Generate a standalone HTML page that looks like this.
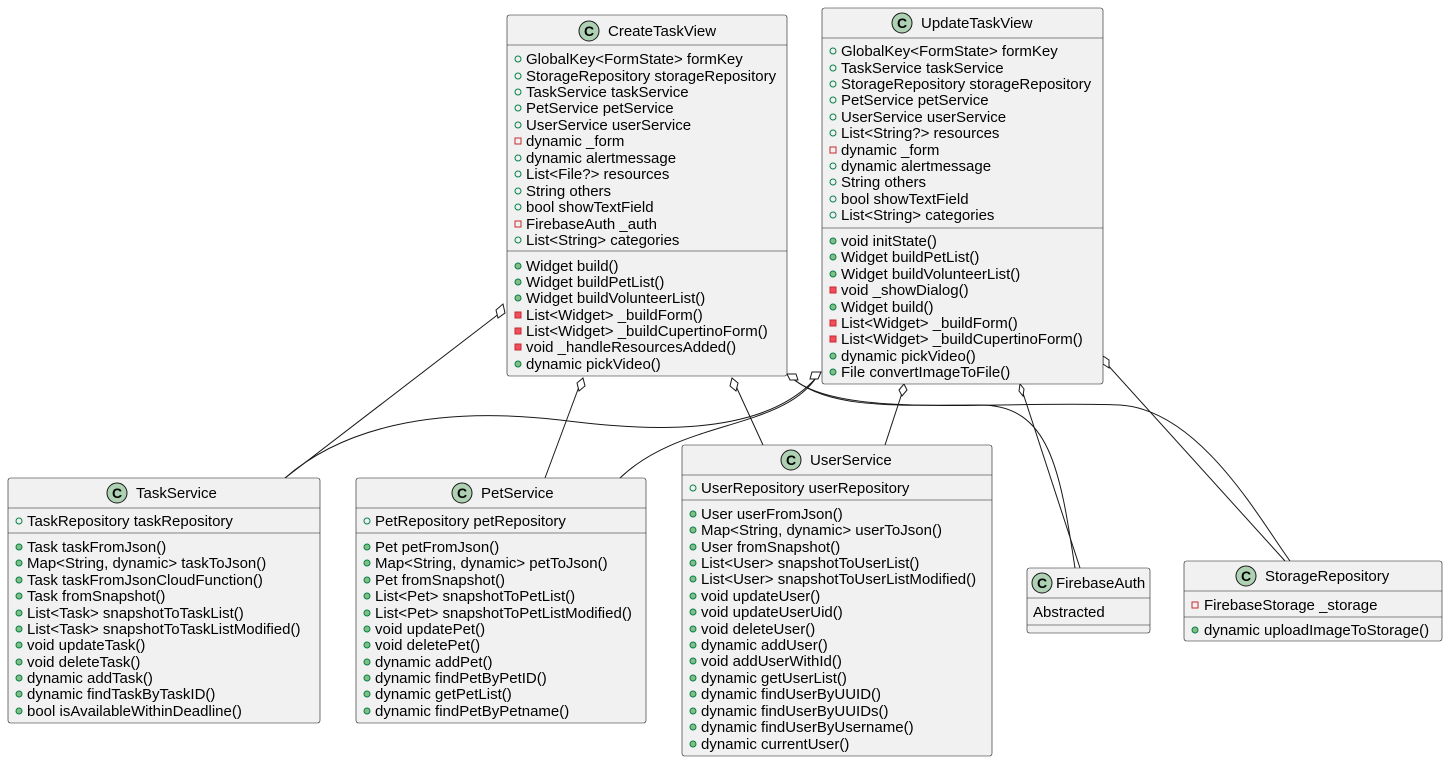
<!DOCTYPE html>
<html><head><meta charset="utf-8"><style>
html,body{margin:0;padding:0;background:#fff;}
svg{display:block;}
text{font-family:"Liberation Sans",sans-serif;font-size:15px;fill:#000;}
.t{font-size:15px;}
.b{fill:#F1F1F1;stroke:#181818;stroke-width:0.6;}
.s{stroke:#181818;stroke-width:0.6;}
.l{fill:none;stroke:#181818;stroke-width:1;}
.d{fill:#fff;stroke:#181818;stroke-width:1;}
.pu{fill:#84BE84;stroke:#038048;stroke-width:1;}
.puo{fill:none;stroke:#038048;stroke-width:1;}
.pr{fill:#F24D5C;stroke:#C82930;stroke-width:1;}
.pro{fill:none;stroke:#C82930;stroke-width:1;}
.ci{fill:#ADD1B2;stroke:#181818;stroke-width:1;}
.cc{font-size:14px;font-weight:bold;}
</style></head><body>
<svg width="1448" height="762" viewBox="0 0 1448 762" xmlns="http://www.w3.org/2000/svg">
<!-- connectors -->
<path class="l" d="M500,313 L285,478"/>
<path class="l" d="M580,384 L545,478"/>
<path class="l" d="M735,384 L763,445"/>
<path class="l" d="M792,378 C830,410 900,405 980,405 C1050,405 1060,470 1075,568"/>
<path class="l" d="M792,378 C840,420 1000,400 1120,405 C1200,410 1260,520 1290,561"/>
<path class="l" d="M816,378 C760,440 640,430 560,420 C430,405 340,430 285,478"/>
<path class="l" d="M816,378 C780,430 680,420 620,478"/>
<path class="l" d="M903,390 L885,445"/>
<path class="l" d="M1022,390 L1080,568"/>
<path class="l" d="M1105,362 L1285,561"/>
<polygon class="d" points="503,304 505,313 498,318 496,310"/>
<polygon class="d" points="583,378 585,386 579,391 577,383"/>
<polygon class="d" points="732,378 738,383 736,391 730,386"/>
<polygon class="d" points="787,374 796,374 798,380 790,380"/>
<polygon class="d" points="812,372 821,372 818,379 810,379"/>
<polygon class="d" points="904,384 907,390 902,396 899,390"/>
<polygon class="d" points="1020,384 1024,389 1023,396 1019,391"/>
<polygon class="d" points="1103,356 1109,360 1109,368 1103,364"/>

<!-- CreateTaskView -->
<rect class="b" x="507" y="15" width="280" height="361" rx="2.5"/>
<line class="s" x1="507" y1="45" x2="787" y2="45"/>
<line class="s" x1="507" y1="251" x2="787" y2="251"/>
<circle class="ci" cx="589" cy="31" r="10"/><text class="cc" x="584" y="36">C</text>
<text class="t" x="608" y="36">CreateTaskView</text>
<g>
<circle class="puo" cx="518" cy="59" r="3"/><text x="526" y="64">GlobalKey&lt;FormState&gt; formKey</text>
<circle class="puo" cx="518" cy="76" r="3"/><text x="526" y="81">StorageRepository storageRepository</text>
<circle class="puo" cx="518" cy="92" r="3"/><text x="526" y="97">TaskService taskService</text>
<circle class="puo" cx="518" cy="108" r="3"/><text x="526" y="113">PetService petService</text>
<circle class="puo" cx="518" cy="125" r="3"/><text x="526" y="130">UserService userService</text>
<rect class="pro" x="515" y="138" width="6" height="6"/><text x="526" y="146">dynamic _form</text>
<circle class="puo" cx="518" cy="158" r="3"/><text x="526" y="163">dynamic alertmessage</text>
<circle class="puo" cx="518" cy="174" r="3"/><text x="526" y="179">List&lt;File?&gt; resources</text>
<circle class="puo" cx="518" cy="191" r="3"/><text x="526" y="196">String others</text>
<circle class="puo" cx="518" cy="207" r="3"/><text x="526" y="212">bool showTextField</text>
<rect class="pro" x="515" y="221" width="6" height="6"/><text x="526" y="229">FirebaseAuth _auth</text>
<circle class="puo" cx="518" cy="240" r="3"/><text x="526" y="245">List&lt;String&gt; categories</text>
<circle class="pu" cx="518" cy="266" r="3"/><text x="526" y="271">Widget build()</text>
<circle class="pu" cx="518" cy="282" r="3"/><text x="526" y="287">Widget buildPetList()</text>
<circle class="pu" cx="518" cy="298" r="3"/><text x="526" y="303">Widget buildVolunteerList()</text>
<rect class="pr" x="515" y="312" width="6" height="6"/><text x="526" y="320">List&lt;Widget&gt; _buildForm()</text>
<rect class="pr" x="515" y="328" width="6" height="6"/><text x="526" y="336">List&lt;Widget&gt; _buildCupertinoForm()</text>
<rect class="pr" x="515" y="344" width="6" height="6"/><text x="526" y="352">void _handleResourcesAdded()</text>
<circle class="pu" cx="518" cy="364" r="3"/><text x="526" y="369">dynamic pickVideo()</text>
</g>

<!-- UpdateTaskView -->
<rect class="b" x="822" y="8" width="281" height="376" rx="2.5"/>
<line class="s" x1="822" y1="38" x2="1103" y2="38"/>
<line class="s" x1="822" y1="228" x2="1103" y2="228"/>
<circle class="ci" cx="902" cy="23" r="10"/><text class="cc" x="897" y="28">C</text>
<text class="t" x="921" y="28">UpdateTaskView</text>
<g>
<circle class="puo" cx="833" cy="51" r="3"/><text x="841" y="56">GlobalKey&lt;FormState&gt; formKey</text>
<circle class="puo" cx="833" cy="68" r="3"/><text x="841" y="73">TaskService taskService</text>
<circle class="puo" cx="833" cy="84" r="3"/><text x="841" y="89">StorageRepository storageRepository</text>
<circle class="puo" cx="833" cy="100" r="3"/><text x="841" y="105">PetService petService</text>
<circle class="puo" cx="833" cy="117" r="3"/><text x="841" y="122">UserService userService</text>
<circle class="puo" cx="833" cy="133" r="3"/><text x="841" y="138">List&lt;String?&gt; resources</text>
<rect class="pro" x="830" y="147" width="6" height="6"/><text x="841" y="155">dynamic _form</text>
<circle class="puo" cx="833" cy="166" r="3"/><text x="841" y="171">dynamic alertmessage</text>
<circle class="puo" cx="833" cy="182" r="3"/><text x="841" y="187">String others</text>
<circle class="puo" cx="833" cy="199" r="3"/><text x="841" y="204">bool showTextField</text>
<circle class="puo" cx="833" cy="215" r="3"/><text x="841" y="220">List&lt;String&gt; categories</text>
<circle class="pu" cx="833" cy="241" r="3"/><text x="841" y="246">void initState()</text>
<circle class="pu" cx="833" cy="257" r="3"/><text x="841" y="262">Widget buildPetList()</text>
<circle class="pu" cx="833" cy="274" r="3"/><text x="841" y="279">Widget buildVolunteerList()</text>
<rect class="pr" x="830" y="287" width="6" height="6"/><text x="841" y="295">void _showDialog()</text>
<circle class="pu" cx="833" cy="307" r="3"/><text x="841" y="312">Widget build()</text>
<rect class="pr" x="830" y="320" width="6" height="6"/><text x="841" y="328">List&lt;Widget&gt; _buildForm()</text>
<rect class="pr" x="830" y="336" width="6" height="6"/><text x="841" y="344">List&lt;Widget&gt; _buildCupertinoForm()</text>
<circle class="pu" cx="833" cy="356" r="3"/><text x="841" y="361">dynamic pickVideo()</text>
<circle class="pu" cx="833" cy="372" r="3"/><text x="841" y="377">File convertImageToFile()</text>
</g>

<!-- TaskService -->
<rect class="b" x="8" y="478" width="312" height="245" rx="2.5"/>
<line class="s" x1="8" y1="508" x2="320" y2="508"/>
<line class="s" x1="8" y1="533" x2="320" y2="533"/>
<circle class="ci" cx="117" cy="493" r="10"/><text class="cc" x="112" y="498">C</text>
<text class="t" x="136" y="498">TaskService</text>
<circle class="puo" cx="19" cy="521" r="3"/><text x="27" y="526">TaskRepository taskRepository</text>
<circle class="pu" cx="19" cy="547" r="3"/><text x="27" y="552">Task taskFromJson()</text>
<circle class="pu" cx="19" cy="563" r="3"/><text x="27" y="568">Map&lt;String, dynamic&gt; taskToJson()</text>
<circle class="pu" cx="19" cy="580" r="3"/><text x="27" y="585">Task taskFromJsonCloudFunction()</text>
<circle class="pu" cx="19" cy="596" r="3"/><text x="27" y="601">Task fromSnapshot()</text>
<circle class="pu" cx="19" cy="613" r="3"/><text x="27" y="618">List&lt;Task&gt; snapshotToTaskList()</text>
<circle class="pu" cx="19" cy="629" r="3"/><text x="27" y="634">List&lt;Task&gt; snapshotToTaskListModified()</text>
<circle class="pu" cx="19" cy="645" r="3"/><text x="27" y="650">void updateTask()</text>
<circle class="pu" cx="19" cy="662" r="3"/><text x="27" y="667">void deleteTask()</text>
<circle class="pu" cx="19" cy="678" r="3"/><text x="27" y="683">dynamic addTask()</text>
<circle class="pu" cx="19" cy="694" r="3"/><text x="27" y="699">dynamic findTaskByTaskID()</text>
<circle class="pu" cx="19" cy="711" r="3"/><text x="27" y="716">bool isAvailableWithinDeadline()</text>

<!-- PetService -->
<rect class="b" x="356" y="478" width="290" height="245" rx="2.5"/>
<line class="s" x1="356" y1="508" x2="646" y2="508"/>
<line class="s" x1="356" y1="533" x2="646" y2="533"/>
<circle class="ci" cx="462" cy="493" r="10"/><text class="cc" x="457" y="498">C</text>
<text class="t" x="481" y="498">PetService</text>
<circle class="puo" cx="367" cy="521" r="3"/><text x="375" y="526">PetRepository petRepository</text>
<circle class="pu" cx="367" cy="547" r="3"/><text x="375" y="552">Pet petFromJson()</text>
<circle class="pu" cx="367" cy="563" r="3"/><text x="375" y="568">Map&lt;String, dynamic&gt; petToJson()</text>
<circle class="pu" cx="367" cy="580" r="3"/><text x="375" y="585">Pet fromSnapshot()</text>
<circle class="pu" cx="367" cy="596" r="3"/><text x="375" y="601">List&lt;Pet&gt; snapshotToPetList()</text>
<circle class="pu" cx="367" cy="613" r="3"/><text x="375" y="618">List&lt;Pet&gt; snapshotToPetListModified()</text>
<circle class="pu" cx="367" cy="629" r="3"/><text x="375" y="634">void updatePet()</text>
<circle class="pu" cx="367" cy="645" r="3"/><text x="375" y="650">void deletePet()</text>
<circle class="pu" cx="367" cy="662" r="3"/><text x="375" y="667">dynamic addPet()</text>
<circle class="pu" cx="367" cy="678" r="3"/><text x="375" y="683">dynamic findPetByPetID()</text>
<circle class="pu" cx="367" cy="694" r="3"/><text x="375" y="699">dynamic getPetList()</text>
<circle class="pu" cx="367" cy="711" r="3"/><text x="375" y="716">dynamic findPetByPetname()</text>

<!-- UserService -->
<rect class="b" x="682" y="445" width="310" height="311" rx="2.5"/>
<line class="s" x1="682" y1="475" x2="992" y2="475"/>
<line class="s" x1="682" y1="500" x2="992" y2="500"/>
<circle class="ci" cx="791" cy="460" r="10"/><text class="cc" x="786" y="465">C</text>
<text class="t" x="810" y="465">UserService</text>
<circle class="puo" cx="693" cy="488" r="3"/><text x="701" y="493">UserRepository userRepository</text>
<circle class="pu" cx="693" cy="514" r="3"/><text x="701" y="519">User userFromJson()</text>
<circle class="pu" cx="693" cy="530" r="3"/><text x="701" y="535">Map&lt;String, dynamic&gt; userToJson()</text>
<circle class="pu" cx="693" cy="547" r="3"/><text x="701" y="552">User fromSnapshot()</text>
<circle class="pu" cx="693" cy="563" r="3"/><text x="701" y="568">List&lt;User&gt; snapshotToUserList()</text>
<circle class="pu" cx="693" cy="579" r="3"/><text x="701" y="584">List&lt;User&gt; snapshotToUserListModified()</text>
<circle class="pu" cx="693" cy="596" r="3"/><text x="701" y="601">void updateUser()</text>
<circle class="pu" cx="693" cy="612" r="3"/><text x="701" y="617">void updateUserUid()</text>
<circle class="pu" cx="693" cy="629" r="3"/><text x="701" y="634">void deleteUser()</text>
<circle class="pu" cx="693" cy="645" r="3"/><text x="701" y="650">dynamic addUser()</text>
<circle class="pu" cx="693" cy="661" r="3"/><text x="701" y="666">void addUserWithId()</text>
<circle class="pu" cx="693" cy="678" r="3"/><text x="701" y="683">dynamic getUserList()</text>
<circle class="pu" cx="693" cy="694" r="3"/><text x="701" y="699">dynamic findUserByUUID()</text>
<circle class="pu" cx="693" cy="711" r="3"/><text x="701" y="716">dynamic findUserByUUIDs()</text>
<circle class="pu" cx="693" cy="727" r="3"/><text x="701" y="732">dynamic findUserByUsername()</text>
<circle class="pu" cx="693" cy="744" r="3"/><text x="701" y="749">dynamic currentUser()</text>

<!-- FirebaseAuth -->
<rect class="b" x="1027" y="568" width="123" height="65" rx="2.5"/>
<line class="s" x1="1027" y1="598" x2="1150" y2="598"/>
<line class="s" x1="1027" y1="625" x2="1150" y2="625"/>
<circle class="ci" cx="1042" cy="583" r="10"/><text class="cc" x="1037" y="588">C</text>
<text class="t" x="1056" y="588">FirebaseAuth</text>
<text x="1033" y="617">Abstracted</text>

<!-- StorageRepository -->
<rect class="b" x="1184" y="561" width="258" height="80" rx="2.5"/>
<line class="s" x1="1184" y1="591" x2="1442" y2="591"/>
<line class="s" x1="1184" y1="617" x2="1442" y2="617"/>
<circle class="ci" cx="1246" cy="576" r="10"/><text class="cc" x="1241" y="581">C</text>
<text class="t" x="1265" y="581">StorageRepository</text>
<rect class="pro" x="1192" y="602" width="6" height="6"/><text x="1204" y="610">FirebaseStorage _storage</text>
<circle class="pu" cx="1195" cy="630" r="3"/><text x="1204" y="635">dynamic uploadImageToStorage()</text>
</svg>
</body></html>
